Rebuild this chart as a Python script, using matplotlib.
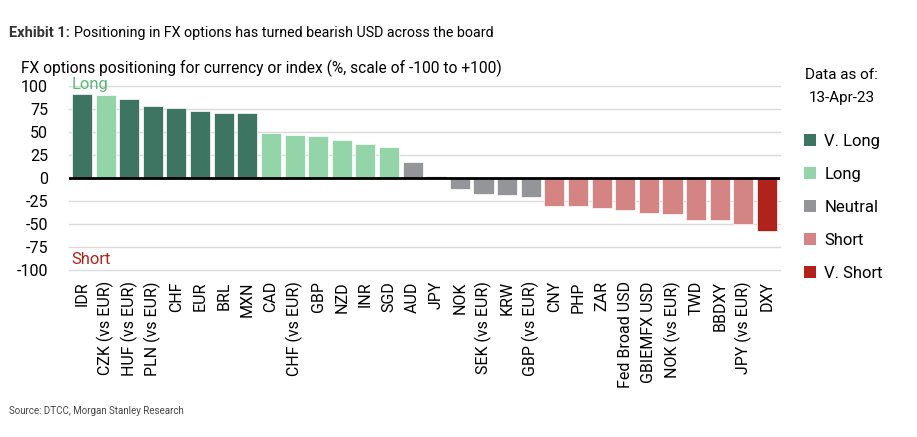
import matplotlib
matplotlib.use("Agg")
import matplotlib.pyplot as plt
from matplotlib.patches import Patch

plt.rcParams['font.family'] = ['Roboto', 'DejaVu Sans']

# data
currencies = ['IDR', 'CZK (vs EUR)', 'HUF (vs EUR)', 'PLN (vs EUR)', 'CHF', 'EUR', 'BRL', 'MXN',
              'CAD', 'CHF (vs EUR)', 'GBP', 'NZD', 'INR', 'SGD', 'AUD', 'JPY',
              'NOK', 'SEK (vs EUR)', 'KRW', 'GBP (vs EUR)', 'CNY', 'PHP', 'ZAR', 'Fed Broad USD',
              'GBIEMFX USD', 'NOK (vs EUR)', 'TWD', 'BBDXY', 'JPY (vs EUR)', 'DXY']
positioning = [91, 90, 85.5, 78, 76, 73, 70, 70,
               49, 46, 45, 41, 37, 34, 17, 1.5,
               -12, -18, -19, -21, -31, -31, -33, -35,
               -38, -39, -46, -46, -50.5, -58]
category = ['V. Long', 'Long', 'V. Long', 'V. Long', 'V. Long', 'V. Long', 'V. Long', 'V. Long',
            'Long', 'Long', 'Long', 'Long', 'Long', 'Long', 'Neutral', 'Neutral',
            'Neutral', 'Neutral', 'Neutral', 'Neutral', 'Short', 'Short', 'Short', 'Short',
            'Short', 'Short', 'Short', 'Short', 'Short', 'V. Short']
cat_order = ['V. Long', 'Long', 'Neutral', 'Short', 'V. Short']
cat_colors = {'V. Long': '#3d7462', 'Long': '#93d5a9', 'Neutral': '#939598',
              'Short': '#d48482', 'V. Short': '#b0231a'}
y_ticks = [-100, -75, -50, -25, 0, 25, 50, 75, 100]

fig = plt.figure(figsize=(9.17, 4.37), dpi=100)
ax = fig.add_axes([0.0752, 0.382, 0.7754, 0.422])

x = range(len(currencies))
colors = [cat_colors[c] for c in category]
ax.bar(x, positioning, width=0.85, color=colors, edgecolor='white', linewidth=0.5, zorder=3)

ax.set_xlim(-0.55, len(currencies) - 0.45)
ax.set_ylim(-100, 100)
ax.set_yticks(y_ticks)
ax.set_yticklabels([str(t) for t in y_ticks], fontsize=11.5)
for t in y_ticks:
    if t == 0:
        ax.axhline(0, color='black', lw=2, zorder=4)
    else:
        ax.axhline(t, color='#dadada', lw=1, zorder=1, clip_on=False)
ax.set_xticks(list(x))
ax.set_xticklabels(currencies, rotation=90, fontsize=11.5)
ax.tick_params(axis='both', length=0)
ax.tick_params(axis='y', pad=15)
ax.tick_params(axis='x', pad=8)
for s in ax.spines.values():
    s.set_visible(False)

ax.text(-0.45, 101, 'Long', color='#5cb77c', fontsize=12, va='center', ha='left')
ax.text(-0.45, -88, 'Short', color='#b0231a', fontsize=12, va='center', ha='left')

fig.text(0.010, 0.924, 'Exhibit 1:', fontsize=10.5, fontweight='bold', color='#333333', va='center')
fig.text(0.081, 0.924, 'Positioning in FX options has turned bearish USD across the board',
         fontsize=10.3, color='black', va='center')
fig.text(0.023, 0.843, 'FX options positioning for currency or index (%, scale of -100 to +100)',
         fontsize=11.2, color='black', va='center')

fig.text(0.918, 0.828, 'Data as of:', fontsize=11, ha='center', va='center')
fig.text(0.918, 0.776, '13-Apr-23', fontsize=11, ha='center', va='center')
handles = [Patch(facecolor=cat_colors[c], label=c) for c in cat_order]
fig.legend(handles=handles, loc='upper left', bbox_to_anchor=(0.868, 0.713), frameon=False,
           fontsize=12, handlelength=0.7, handleheight=0.7, handletextpad=0.5,
           labelspacing=1.08, borderpad=0)

fig.text(0.010, 0.059, 'Source: DTCC, Morgan Stanley Research', fontsize=7, color='#444444', va='center')

fig.savefig('out.png', dpi=100, facecolor='white')
